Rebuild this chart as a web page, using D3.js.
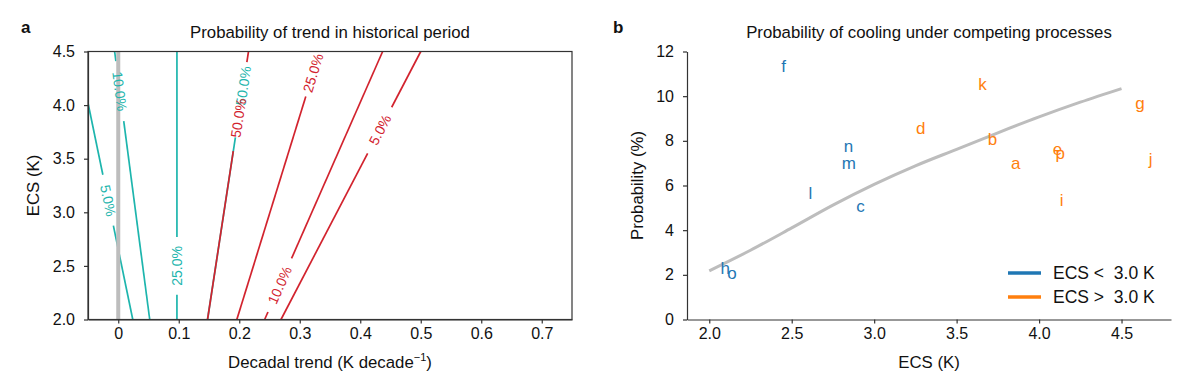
<!DOCTYPE html>
<html>
<head>
<meta charset="utf-8">
<style>
  body { margin: 0; background: #fff; }
  svg text { font-family: "Liberation Sans", Arial, Helvetica, sans-serif; fill: #111; }
  .axis path, .axis line { stroke: #333; stroke-width: 1.2; }
  .axis text { font-size: 16px; fill: #111; }
  .lab { font-size: 16.8px; }
  .clab { font-size: 14px; }
  .letter { font-size: 17px; }
  .legtxt { font-size: 17.5px; }
</style>
<script src="https://d3js.org/d3.v7.min.js"></script>
</head>
<body>
<svg width="1200" height="386"></svg>
<script>
// ---- panel a: contour lines (trend, ECS) ----
var cyanLevels  = ["5.0%", "10.0%", "25.0%", "50.0%"];
var cyanBottom  = [[0.024, 2.0], [0.052, 2.0], [0.097, 2.0], [0.1476, 2.0]];
var cyanTop     = [[-0.05, 4.02], [-0.006, 4.5], [0.097, 4.5], [0.2153, 4.5]];
var cyanLabelAt = [3.11, 4.13, 2.50, 4.18];
var cyanGap     = [[2.875, 3.35], [3.85, 4.41], [2.23, 2.77], [3.70, 4.5]];

var redLevels  = ["50.0%", "25.0%", "10.0%", "5.0%"];
var redBottom  = [[0.1476, 2.0], [0.196, 2.0], [0.242, 2.0], [0.269, 2.0]];
var redTop     = [[0.2153, 4.5], [0.333, 4.5], [0.437, 4.5], [0.500, 4.5]];
var redLabelAt = [3.88, 4.30, 2.32, 3.77];
var redGap     = [[3.57, 4.40], [4.08, 4.5], [2.07, 2.57], [3.55, 3.98]];

var xTicksA = [0, 0.1, 0.2, 0.3, 0.4, 0.5, 0.6, 0.7];
var xTickLabelsA = ["0", "0.1", "0.2", "0.3", "0.4", "0.5", "0.6", "0.7"];
var yTicksA = [2.0, 2.5, 3.0, 3.5, 4.0, 4.5];

// ---- panel b: models and fitted curve ----
var modelNames = ["a", "b", "c", "d", "e", "f", "g", "h", "i", "j", "k", "l", "m", "n", "o", "p"];
var modelEcs   = [3.859, 3.717, 2.917, 3.282, 4.112, 2.451, 4.612, 2.097, 4.137, 4.677, 3.657, 2.614, 2.846, 2.845, 2.138, 4.128];
var modelProb  = [7.00, 8.05, 5.06, 8.53, 7.63, 11.33, 9.69, 2.30, 5.33, 7.15, 10.51, 5.66, 7.00, 7.75, 2.05, 7.45];

var curveEcs  = [2.0, 2.25, 2.5, 2.75, 3.0, 3.25, 3.5, 3.75, 4.0, 4.25, 4.5];
var curveProb = [2.18, 3.10, 4.10, 5.12, 6.05, 6.88, 7.62, 8.36, 9.07, 9.73, 10.34];

var xTicksB = [2.0, 2.5, 3.0, 3.5, 4.0, 4.5];
var yTicksB = [0, 2, 4, 6, 8, 10, 12];
var legendLabels = ["ECS <  3.0 K", "ECS >  3.0 K"];

var cyan = "#1db5ad", red = "#d2232e", blue = "#1f77b4", orange = "#ff7f0e";

var svg = d3.select("svg");

// ================= panel a =================
var xA = d3.scaleLinear().domain([-0.05, 0.75]).range([88, 572]);
var yA = d3.scaleLinear().domain([2.0, 4.5]).range([319.5, 51.5]);

svg.append("clipPath").attr("id", "clipA")
   .append("rect").attr("x", 88).attr("y", 51.5).attr("width", 484).attr("height", 268);

var gA = svg.append("g").attr("clip-path", "url(#clipA)");
var gAlab = svg.append("g");
var line = d3.line().x(function(d){ return xA(d[0]); }).y(function(d){ return yA(d[1]); });

function drawLines(bottoms, tops, gaps, color) {
    bottoms.forEach(function(p0, i) {
        var p1 = tops[i];
        var at = function(e) { return p0[0] + (e - p0[1]) / (p1[1] - p0[1]) * (p1[0] - p0[0]); };
        var segs = [[p0, [at(gaps[i][0]), gaps[i][0]]], [[at(gaps[i][1]), gaps[i][1]], p1]];
        segs.forEach(function(s) {
            if (s[1][1] - s[0][1] > 0.001)
                gA.append("path").attr("d", line(s))
                  .attr("fill", "none").attr("stroke", color).attr("stroke-width", 1.7);
        });
    });
}

function drawLabels(levels, bottoms, tops, labelAt, color) {
    levels.forEach(function(lev, i) {
        var p0 = bottoms[i], p1 = tops[i];
        var e = labelAt[i];
        var t = p0[0] + (e - p0[1]) / (p1[1] - p0[1]) * (p1[0] - p0[0]);
        var ang = Math.atan2(yA(p1[1]) - yA(p0[1]), xA(p1[0]) - xA(p0[0])) * 180 / Math.PI;
        if (ang < -90) ang += 180;
        if (ang > 90) ang -= 180;
        gAlab.append("text").attr("class", "clab")
            .attr("transform", "translate(" + xA(t) + "," + yA(e) + ") rotate(" + ang + ")")
            .attr("text-anchor", "middle").attr("dominant-baseline", "central")
            .style("fill", color).text(lev);
    });
}

drawLines(cyanBottom, cyanTop, cyanGap, cyan);
drawLines(redBottom, redTop, redGap, red);

// zero trend line
gA.append("line")
  .attr("x1", xA(0)).attr("x2", xA(0)).attr("y1", yA(2.0)).attr("y2", yA(4.5))
  .attr("stroke", "#bdbdbd").attr("stroke-width", 4);

drawLabels(cyanLevels, cyanBottom, cyanTop, cyanLabelAt, cyan);
drawLabels(redLevels, redBottom, redTop, redLabelAt, red);

svg.append("g").attr("class", "axis")
   .attr("transform", "translate(0,319.5)")
   .call(d3.axisBottom(xA).tickValues(xTicksA).tickFormat(function(d, i){ return xTickLabelsA[i]; })
           .tickSize(4).tickPadding(4).tickSizeOuter(0));
svg.append("g").attr("class", "axis")
   .attr("transform", "translate(88,0)")
   .call(d3.axisLeft(yA).tickValues(yTicksA).tickFormat(d3.format(".1f"))
           .tickSize(4).tickPadding(9).tickSizeOuter(0));

svg.append("rect").attr("x", 88).attr("y", 51.5).attr("width", 484).attr("height", 268)
   .attr("fill", "none").attr("stroke", "#333").attr("stroke-width", 1.2);

svg.append("text").attr("x", 21).attr("y", 32.5).style("font-size", "17px").style("font-weight", "bold").text("a");
svg.append("text").attr("class", "lab").attr("x", 330).attr("y", 38).attr("text-anchor", "middle")
   .text("Probability of trend in historical period");
var xl = svg.append("text").attr("class", "lab").attr("x", 330).attr("y", 368).attr("text-anchor", "middle");
xl.append("tspan").text("Decadal trend (K decade");
xl.append("tspan").attr("dy", -7).style("font-size", "11px").text("\u22121");
xl.append("tspan").attr("dy", 7).text(")");
svg.append("text").attr("class", "lab").attr("transform", "translate(39,185.5) rotate(-90)")
   .attr("text-anchor", "middle").text("ECS (K)");

// ================= panel b =================
var xB = d3.scaleLinear().domain([1.865, 4.8]).range([687, 1171]);
var yB = d3.scaleLinear().domain([0, 12]).range([319.5, 51.5]);

svg.append("path")
   .attr("d", d3.line().curve(d3.curveMonotoneX)
                .x(function(d, i){ return xB(curveEcs[i]); })
                .y(function(d){ return yB(d); })(curveProb))
   .attr("fill", "none").attr("stroke", "#bdbdbd").attr("stroke-width", 3);

svg.selectAll(".letter").data(modelNames).enter().append("text")
   .attr("class", "letter")
   .attr("x", function(d, i){ return xB(modelEcs[i]); })
   .attr("y", function(d, i){ return yB(modelProb[i]); })
   .attr("text-anchor", "middle").attr("dominant-baseline", "central")
   .style("fill", function(d, i){ return modelEcs[i] < 3.0 ? blue : orange; })
   .text(function(d){ return d; });

svg.append("g").attr("class", "axis")
   .attr("transform", "translate(0,319.5)")
   .call(d3.axisBottom(xB).tickValues(xTicksB).tickFormat(d3.format(".1f"))
           .tickSize(4).tickPadding(4).tickSizeOuter(0));
svg.append("g").attr("class", "axis")
   .attr("transform", "translate(687,0)")
   .call(d3.axisLeft(yB).tickValues(yTicksB).tickFormat(d3.format("d"))
           .tickSize(4).tickPadding(9).tickSizeOuter(0));

var leg = svg.append("g");
legendLabels.forEach(function(l, i) {
    var y = 273 + i * 24;
    leg.append("line").attr("x1", 1008).attr("x2", 1041).attr("y1", y).attr("y2", y)
       .attr("stroke", i === 0 ? blue : orange).attr("stroke-width", 3.5);
    leg.append("text").attr("class", "legtxt").attr("x", 1053).attr("y", y)
       .attr("dominant-baseline", "central").style("white-space", "pre").text(l);
});

svg.append("text").attr("x", 613).attr("y", 32.5).style("font-size", "17px").style("font-weight", "bold").text("b");
svg.append("text").attr("class", "lab").attr("x", 929).attr("y", 38).attr("text-anchor", "middle")
   .text("Probability of cooling under competing processes");
svg.append("text").attr("class", "lab").attr("x", 929).attr("y", 368).attr("text-anchor", "middle")
   .text("ECS (K)");
svg.append("text").attr("class", "lab").attr("transform", "translate(643,185.5) rotate(-90)")
   .attr("text-anchor", "middle").text("Probability (%)");
</script>
</body>
</html>
